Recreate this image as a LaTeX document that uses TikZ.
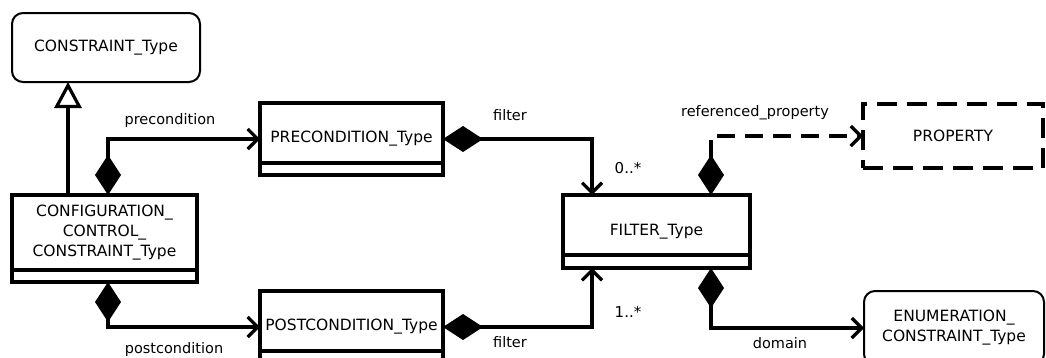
\documentclass[tikz,border=0pt]{standalone}
\usepackage{fontspec}
\setmainfont{DejaVu Sans}
\usetikzlibrary{arrows.meta}
\begin{document}
\begin{tikzpicture}[x=1pt,y=-1pt,
  every node/.style={font=\fontsize{15.5}{20}\selectfont},
  cls/.style={draw, line width=3.4pt, inner sep=0pt, outer sep=0pt},
  rbox/.style={draw, line width=2pt, rounded corners=11pt, inner sep=0pt, outer sep=0pt, align=center},
  dbox/.style={draw, line width=3.4pt, dash pattern=on 20pt off 10pt, inner sep=0pt, outer sep=0pt},
  lbl/.style={font=\fontsize{14.5}{16}\selectfont, inner sep=0pt},
  mult/.style={font=\fontsize{15}{16}\selectfont, inner sep=0pt},
  conn/.style={line width=3.2pt},
  comp/.style={conn, {Diamond[length=40pt,width=26pt]}-{Straight Barb[length=10pt,width=20pt]}},
  gen/.style={conn, -{Triangle[open,fill=white,length=26pt,width=27pt]}},
]
\useasboundingbox (0,0) rectangle (1046,357);

% class boxes
\node[rbox, minimum width=188pt, minimum height=69pt] (con) at (106,47.5) {CONSTRAINT\_Type};
\node[cls, minimum width=185pt, minimum height=75pt, align=center] (cfg) at (104.5,232.5)
  {CONFIGURATION\_\\CONTROL\_\\CONSTRAINT\_Type};
\node[cls, minimum width=185pt, minimum height=12pt, anchor=north] (cfgfoot) at (cfg.south) {};
\node[cls, minimum width=183pt, minimum height=72pt] (pre) at (351.5,139) {PRECONDITION\_Type};
\node[cls, minimum width=183pt, minimum height=72pt] (post) at (351.5,327) {POSTCONDITION\_Type};
\node[cls, minimum width=187pt, minimum height=73pt] (flt) at (656.5,231.5) {FILTER\_Type};
\node[dbox, minimum width=180pt, minimum height=64pt] (prop) at (953,136) {PROPERTY};
\node[rbox, minimum width=180pt, minimum height=74pt] (enum) at (954,328) {ENUMERATION\_\\CONSTRAINT\_Type};

% compartment separators
\draw[cls] ([yshift=12pt]pre.south west) -- ([yshift=12pt]pre.south east);
\draw[cls] ([yshift=12pt]post.south west) -- ([yshift=12pt]post.south east);
\draw[cls] ([yshift=13pt]flt.south west) -- ([yshift=13pt]flt.south east);

% anchor points on box edges
\coordinate (g1) at ([xshift=56pt]cfg.north west);
\coordinate (p1) at ([xshift=96pt]cfg.north west);
\coordinate (p2) at ([xshift=96pt]cfgfoot.south west);
\coordinate (f1) at ([xshift=29pt]flt.north west);
\coordinate (f2) at ([xshift=29pt]flt.south west);
\coordinate (r1) at ([xshift=148pt]flt.north west);
\coordinate (d1) at ([xshift=148pt]flt.south west);

% connectors
\draw[gen] (g1) -- (g1 |- con.south);
\draw[comp] (p1) |- (pre.west);
\draw[comp] (pre.east) -| (f1);
\draw[comp] (p2) |- (post.west);
\draw[comp] (post.east) -| (f2);
\draw[comp, dash pattern=on 18pt off 10pt] (r1) |- (prop.west);
\draw[comp] (d1) |- (enum.west);

% labels
\node[lbl] (lpre) at (170,120) {precondition};
\node[lbl] (lf1) at (510,115) {filter};
\node[mult] (m1) at (628,168) {0..*};
\node[lbl] (lrp) at (755,113) {referenced\_property};
\node[mult] (m2) at (628,312) {1..*};
\node[lbl] (lf2) at (510,342) {filter};
\node[lbl] (lpost) at (174,349) {postcondition};
\node[lbl] (ldom) at (780,343) {domain};
\end{tikzpicture}
\end{document}
